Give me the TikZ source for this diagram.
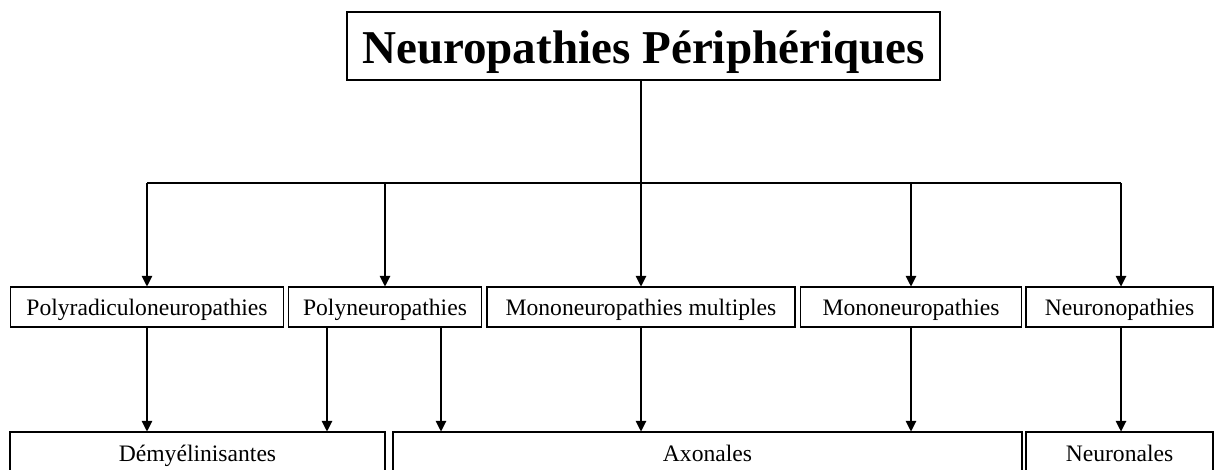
\documentclass[tikz,border=0pt]{standalone}
\usepackage{fontspec}
\setmainfont{Liberation Serif}
\usetikzlibrary{arrows.meta}
\begin{document}
\begin{tikzpicture}[x=0.75pt,y=-0.75pt,
  box/.style={draw,line width=0.8pt,inner sep=0pt,text height=14pt,text depth=2pt,font=\fontsize{17.7pt}{20pt}\selectfont},
  titlebox/.style={draw,line width=0.9pt,inner sep=0pt,text height=28pt,text depth=2.5pt,font=\fontsize{35.3pt}{40pt}\selectfont\bfseries},
  conn/.style={line width=0.8pt},
  arr/.style={line width=0.8pt,-{Triangle[width=8pt,length=8pt]}}]
\useasboundingbox (0,0) rectangle (1214,469);
\clip (0,0) rectangle (1214,469);
% title
\node[titlebox,minimum width=593*0.75pt,minimum height=68*0.75pt] (title) at (643.5,46) {Neuropathies Périphériques};
% second row
\node[box,minimum width=273*0.75pt,minimum height=40*0.75pt] (pr) at (147,307) {Polyradiculoneuropathies};
\node[box,minimum width=193*0.75pt,minimum height=40*0.75pt] (pn) at (385,307) {Polyneuropathies};
\node[box,minimum width=308*0.75pt,minimum height=40*0.75pt] (mm) at (641,307) {Mononeuropathies multiples};
\node[box,minimum width=221*0.75pt,minimum height=40*0.75pt] (mo) at (911,307) {Mononeuropathies};
\node[box,minimum width=187*0.75pt,minimum height=40*0.75pt] (nn) at (1119.5,307) {Neuronopathies};
% third row
\node[box,minimum width=375*0.75pt,minimum height=42*0.75pt] (dm) at (197.5,453) {Démyélinisantes};
\node[box,minimum width=629*0.75pt,minimum height=42*0.75pt] (ax) at (707.5,453) {Axonales};
\node[box,minimum width=187*0.75pt,minimum height=42*0.75pt] (ne) at (1119.5,453) {Neuronales};
% bus
\coordinate (hub) at (641,183);
\coordinate (busL) at (147,183);
\coordinate (busR) at (1121,183);
\coordinate (pnL) at (327,327);
\coordinate (pnR) at (441,327);
\coordinate (nnS) at (1121,327);
\draw[conn] (title.south -| hub) -- (hub);
\draw[conn] (busL) -- (busR);
\draw[arr] (busL) -- (busL |- pr.north);
\draw[arr] (pn.north |- hub) -- (pn.north);
\draw[arr] (hub) -- (mm.north);
\draw[arr] (mo.north |- hub) -- (mo.north);
\draw[arr] (busR) -- (busR |- nn.north);
% second to third
\draw[arr] (pr.south) -- (pr.south |- dm.north);
\draw[arr] (pnL) -- (pnL |- dm.north);
\draw[arr] (pnR) -- (pnR |- ax.north);
\draw[arr] (mm.south) -- (mm.south |- ax.north);
\draw[arr] (mo.south) -- (mo.south |- ax.north);
\draw[arr] (nnS) -- (nnS |- ne.north);
\end{tikzpicture}
\end{document}
